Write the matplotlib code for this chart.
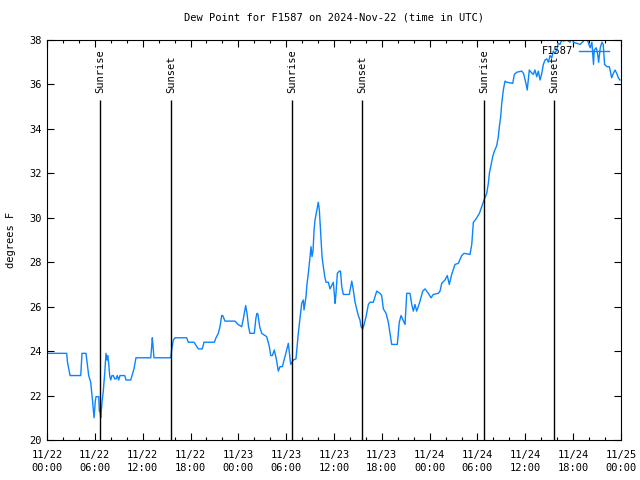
import numpy as np
import matplotlib
matplotlib.use("Agg")
import matplotlib.pyplot as plt
from matplotlib.ticker import MultipleLocator

# hours since 2024-11-22 00:00 UTC
hours = [0.00, 2.47, 2.57, 2.89, 4.23, 4.39, 4.89, 5.23, 5.48, 5.73, 5.90, 6.06, 6.15, 6.49,
         6.56, 6.65, 6.74, 6.90, 7.06, 7.24, 7.40, 7.53, 7.61, 7.74, 7.86, 7.99, 8.15, 8.32,
         8.49, 8.66, 8.82, 8.99, 9.16, 9.41, 9.75, 9.91, 10.41, 10.50, 10.91, 11.16, 13.01,
         13.13, 13.21, 13.30, 13.42, 15.52, 15.64, 15.84, 16.06, 17.52, 17.72, 18.44, 18.98,
         19.48, 19.69, 20.99, 21.20, 21.49, 21.70, 21.91, 22.04, 22.33, 23.58, 23.96, 24.42,
         24.65, 24.92, 25.09, 25.28, 25.46, 26.00, 26.21, 26.34, 26.46, 26.68, 26.93, 27.56,
         27.89, 28.06, 28.27, 28.51, 28.79, 29.01, 29.23, 29.52, 29.85, 30.27, 30.57, 30.90,
         31.23, 31.52, 31.74, 31.95, 32.15, 32.24, 32.49, 32.58, 32.78, 32.99, 33.12, 33.24,
         33.37, 33.50, 33.62, 33.83, 34.03, 34.16, 34.33, 34.50, 34.66, 34.87, 35.00, 35.29,
         35.50, 35.71, 35.91, 36.06, 36.13, 36.25, 36.42, 36.67, 36.82, 36.97, 37.17, 37.92,
         38.10, 38.23, 38.42, 38.64, 38.85, 39.05, 39.26, 39.39, 39.60, 39.77, 40.02, 40.31,
         40.52, 40.93, 41.14, 41.36, 41.77, 41.98, 42.19, 42.53, 42.81, 43.03, 43.24, 43.94,
         44.19, 44.41, 44.66, 44.91, 45.12, 45.53, 45.75, 45.95, 46.16, 46.37, 46.57, 46.79,
         47.13, 47.42, 47.83, 48.17, 48.46, 49.08, 49.30, 49.51, 49.92, 50.21, 50.46, 50.76,
         51.18, 51.59, 52.02, 52.31, 53.06, 53.28, 53.48, 53.82, 54.24, 54.53, 54.82, 55.16,
         55.36, 55.49, 55.66, 55.91, 56.07, 56.41, 56.61, 56.74, 56.91, 57.04, 57.24, 57.45,
         57.67, 58.42, 58.62, 58.92, 59.55, 59.77, 60.08, 60.24, 60.50, 60.71, 61.00, 61.21,
         61.43, 61.63, 61.84, 62.06, 62.26, 62.47, 62.68, 62.88, 63.10, 63.31, 63.51, 63.72,
         63.93, 64.13, 64.35, 64.56, 64.76, 65.19, 65.61, 65.82, 66.02, 66.46, 66.87, 67.29,
         67.50, 67.72, 67.92, 68.13, 68.35, 68.55, 68.64, 68.89, 69.06, 69.19, 69.40, 69.61,
         69.77, 69.94, 70.24, 70.53, 70.66, 70.83, 71.04, 71.25, 71.46, 71.67, 71.87]
dewpoint = [23.9, 23.9, 23.5, 22.9, 22.9, 23.9, 23.9, 22.9, 22.6, 21.7, 21.0, 21.75, 21.95, 21.95,
            21.3, 21.3, 21.0, 21.7, 22.2, 23.0, 23.9, 23.6, 23.8, 23.45, 22.9, 22.7, 22.9, 22.9,
            22.75, 22.75, 22.9, 22.7, 22.9, 22.9, 22.9, 22.7, 22.7, 22.7, 23.2, 23.7, 23.7,
            24.2, 24.6, 24.2, 23.7, 23.7, 24.05, 24.5, 24.6, 24.6, 24.4, 24.4, 24.1,
            24.1, 24.4, 24.4, 24.6, 24.8, 25.1, 25.6, 25.6, 25.35, 25.35, 25.2, 25.1,
            25.5, 26.05, 25.7, 25.1, 24.8, 24.8, 25.5, 25.7, 25.65, 25.1, 24.8, 24.65,
            24.2, 23.8, 23.8, 24.05, 23.6, 23.1, 23.3, 23.3, 23.75, 24.35, 23.4, 23.6,
            23.65, 24.8, 25.5, 26.15, 26.3, 25.85, 26.45, 26.9, 27.5, 28.25, 28.7, 28.25,
            28.5, 29.45, 29.9, 30.3, 30.7, 30.35, 29.3, 28.25, 27.8, 27.3, 27.1, 27.1,
            26.8, 26.95, 27.1, 26.5, 26.15, 26.6, 27.5, 27.6, 27.6, 26.9, 26.55, 26.55,
            26.9, 27.15, 26.75, 26.2, 25.9, 25.6, 25.4, 25.1, 25.0, 25.2, 25.55, 26.1,
            26.2, 26.2, 26.45, 26.7, 26.6, 26.5, 25.9, 25.7, 25.3, 24.8, 24.3, 24.3,
            25.3, 25.6, 25.4, 25.2, 26.6, 26.6, 26.1, 25.8, 26.1, 25.8, 26.0, 26.25,
            26.7, 26.8, 26.6, 26.4, 26.55, 26.6, 26.7, 27.05, 27.2, 27.4, 27.0, 27.45,
            27.9, 27.95, 28.3, 28.4, 28.35, 28.8, 29.8, 29.95, 30.2, 30.5, 30.8, 31.1,
            31.55, 32.0, 32.3, 32.75, 32.95, 33.25, 33.65, 34.1, 34.55, 35.15, 35.75, 36.15,
            36.1, 36.05, 36.45, 36.55, 36.6, 36.5, 36.05, 35.75, 36.65, 36.55, 36.45, 36.65,
            36.35, 36.6, 36.2, 36.5, 36.9, 37.1, 37.15, 37.0, 37.3, 37.2, 37.5, 37.4,
            37.55, 37.85, 37.8, 38.0, 37.95, 38.0, 37.9, 38.3, 37.9, 37.85, 37.8, 37.95,
            38.3, 38.1, 37.85, 37.65, 37.9, 36.9, 37.55, 37.65, 37.4, 37.0, 37.65, 37.9,
            37.8, 36.9, 36.8, 36.8, 36.6, 36.3, 36.5, 36.65, 36.5, 36.3, 36.2]

sun_hours = [6.65, 15.56, 30.74, 39.5, 54.8, 63.6]
sun_labels = ["Sunrise", "Sunset", "Sunrise", "Sunset", "Sunrise", "Sunset"]

tick_hours = list(range(0, 73, 6))
tick_labels = ["11/22\n00:00", "11/22\n06:00", "11/22\n12:00", "11/22\n18:00",
               "11/23\n00:00", "11/23\n06:00", "11/23\n12:00", "11/23\n18:00",
               "11/24\n00:00", "11/24\n06:00", "11/24\n12:00", "11/24\n18:00",
               "11/25\n00:00"]

plt.rcParams['font.family'] = 'DejaVu Sans Mono'
plt.rcParams['font.size'] = 7.5

fig = plt.figure(figsize=(6.4, 4.8), dpi=100)
ax = fig.add_axes([47/640, 40/480, 574/640, 400/480])

ax.plot(hours, dewpoint, color='#0a84ff', lw=1.0, label='F1587')
for h, lab in zip(sun_hours, sun_labels):
    ax.vlines(h, 20, 35.3, color='black', lw=1.0)
    ax.text(h, 35.6, lab, rotation=90, ha='center', va='bottom')

ax.set_xlim(0, 72)
ax.set_ylim(20, 38)
ax.set_xticks(tick_hours)
ax.set_xticklabels(tick_labels)
for t in ax.get_xticklabels():
    t.set_linespacing(1.45)
ax.xaxis.set_minor_locator(MultipleLocator(2))
ax.set_yticks(np.arange(20, 39, 2))
ax.tick_params(which='both', direction='in', top=True, right=True, labelsize=7.5)
ax.tick_params(which='major', length=5, width=0.8)
ax.tick_params(which='minor', length=2.5, width=0.8)
ax.tick_params(axis='x', pad=7)

ax.set_title("Dew Point for F1587 on 2024-Nov-22 (time in UTC)", fontsize=7.5, pad=14)
ax.set_ylabel("degrees F")
ax.yaxis.set_label_coords(-0.054, 0.5)
ax.legend(loc='upper right', bbox_to_anchor=(1 - 8/574, 1 - 2/400), frameon=False,
          markerfirst=False, handlelength=2.9, borderaxespad=0, handletextpad=0.5,
          fontsize=7.5)

fig.savefig("out.png", dpi=100)
